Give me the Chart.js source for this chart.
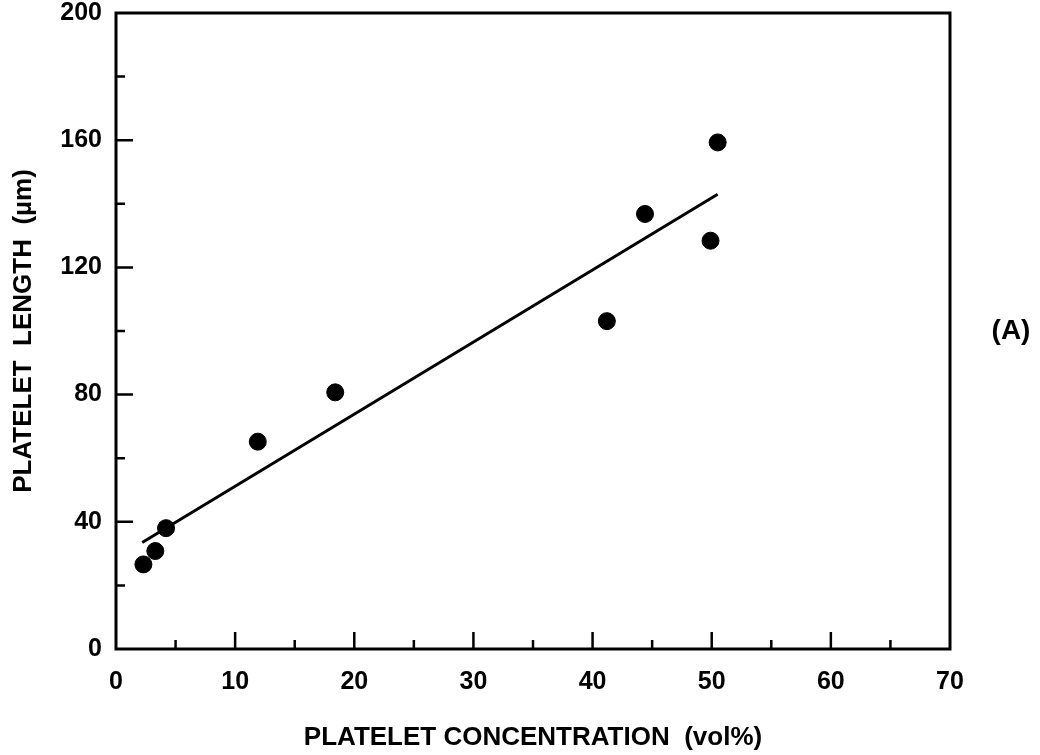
<!DOCTYPE html>
<html>
<head>
<meta charset="utf-8">
<script src="https://cdn.jsdelivr.net/npm/chart.js@4/dist/chart.umd.min.js"></script>
<style>
  html, body { margin: 0; padding: 0; background: #fff; }
  #wrap { width: 1040px; height: 755px; }
</style>
</head>
<body>
<div id="wrap"><canvas id="platelet-chart" width="1040" height="755"></canvas></div>
<script>
// Measured points
var concentration = [2.3, 3.3, 4.2, 11.9, 18.4, 41.2, 44.4, 49.9, 50.5];
var plateletLength = [26.6, 30.8, 38.0, 65.2, 80.7, 103.1, 136.8, 128.4, 159.3];

// Straight-line fit, end points
var fitX = [2.2, 50.5];
var fitY = [33.5, 143.0];

// Axis ticks
var xTicks = [0, 10, 20, 30, 40, 50, 60, 70];
var xMinor = [5, 15, 25, 35, 45, 55, 65];
var yTicks = [0, 40, 80, 120, 160, 200];
var yMinor = [20, 60, 100, 140, 180];

var panelLabel = "(A)";

var fontFamily = "'Liberation Sans', Arial, Helvetica, sans-serif";

var points = [];
for (var i = 0; i < concentration.length; i++) {
	points.push({x: concentration[i], y: plateletLength[i]});
}
var fitLine = [];
for (var i = 0; i < fitX.length; i++) {
	fitLine.push({x: fitX[i], y: fitY[i]});
}

// box round the plot area plus inward tick marks, and the panel letter
var frameTicks = {
	id: "frameTicks",
	beforeDatasetsDraw: function(chart) {
		var ctx = chart.ctx;
		var a = chart.chartArea;
		var xs = chart.scales.x;
		var ys = chart.scales.y;
		ctx.save();
		ctx.strokeStyle = "#000";
		ctx.lineWidth = 3;
		ctx.strokeRect(a.left, a.top, a.right - a.left, a.bottom - a.top);

		ctx.lineWidth = 2.5;
		ctx.beginPath();
		xTicks.forEach(function(v) {
			if (v === xs.min || v === xs.max) return;
			var px = xs.getPixelForValue(v);
			ctx.moveTo(px, a.bottom);
			ctx.lineTo(px, a.bottom - 17);
		});
		xMinor.forEach(function(v) {
			var px = xs.getPixelForValue(v);
			ctx.moveTo(px, a.bottom);
			ctx.lineTo(px, a.bottom - 9);
		});
		yTicks.forEach(function(v) {
			if (v === ys.min || v === ys.max) return;
			var py = ys.getPixelForValue(v);
			ctx.moveTo(a.left, py);
			ctx.lineTo(a.left + 17, py);
		});
		yMinor.forEach(function(v) {
			var py = ys.getPixelForValue(v);
			ctx.moveTo(a.left, py);
			ctx.lineTo(a.left + 9, py);
		});
		ctx.stroke();
		ctx.restore();
	},
	afterDraw: function(chart) {
		var ctx = chart.ctx;
		var a = chart.chartArea;
		ctx.save();
		ctx.fillStyle = "#000";
		ctx.font = "bold 28px " + fontFamily;
		ctx.textAlign = "center";
		ctx.textBaseline = "middle";
		ctx.fillText(panelLabel, a.right + 61, (a.top + a.bottom) / 2);
		ctx.restore();
	}
};

var ctx = document.getElementById("platelet-chart").getContext("2d");

var plateletChart = new Chart(ctx, {
	type: "scatter",
	data: {
		datasets: [
			{
				data: points,
				backgroundColor: "#000",
				borderColor: "#000",
				pointRadius: 8.5,
				pointHoverRadius: 8.5,
				showLine: false
			},
			{
				data: fitLine,
				showLine: true,
				borderColor: "#000",
				borderWidth: 3,
				pointRadius: 0,
				fill: false
			}
		]
	},
	options: {
		responsive: false,
		animation: false,
		layout: {padding: {top: 13, right: 90, left: 0, bottom: 0}},
		plugins: {
			legend: {display: false},
			tooltip: {enabled: false}
		},
		scales: {
			x: {
				type: "linear",
				min: 0,
				max: 70,
				afterFit: function(scale) {
					scale.height = 106;
					scale.paddingLeft = 0;
					scale.paddingRight = 0;
				},
				afterBuildTicks: function(scale) {
					scale.ticks = xTicks.map(function(v) { return {value: v}; });
				},
				border: {display: false},
				grid: {display: false, drawTicks: false},
				ticks: {
					padding: 21,
					color: "#000",
					maxRotation: 0,
					font: {family: fontFamily, size: 25, weight: "bold", lineHeight: 1}
				},
				title: {
					display: true,
					text: "PLATELET CONCENTRATION  (vol%)",
					color: "#000",
					padding: {top: 0, bottom: 2},
					font: {family: fontFamily, size: 26, weight: "bold"}
				}
			},
			y: {
				type: "linear",
				min: 0,
				max: 200,
				afterFit: function(scale) {
					scale.width = 116;
					scale.paddingTop = 0;
					scale.paddingBottom = 0;
				},
				afterBuildTicks: function(scale) {
					scale.ticks = yTicks.map(function(v) { return {value: v}; });
				},
				border: {display: false},
				grid: {display: false, drawTicks: false},
				ticks: {
					padding: 14,
					color: "#000",
					font: {family: fontFamily, size: 25, weight: "bold", lineHeight: 1}
				},
				title: {
					display: true,
					text: "PLATELET  LENGTH  (µm)",
					color: "#000",
					padding: {top: 8, bottom: 0},
					font: {family: fontFamily, size: 26, weight: "bold"}
				}
			}
		}
	},
	plugins: [frameTicks]
});
</script>
</body>
</html>
